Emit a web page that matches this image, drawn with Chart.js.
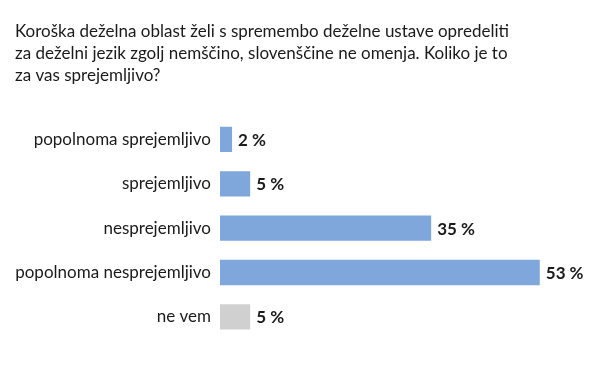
<!DOCTYPE html>
<html>
<head>
<meta charset="utf-8">
<script src="https://cdn.jsdelivr.net/npm/chart.js@4"></script>
<style>
html,body{margin:0;padding:0;background:#fff;}
#wrap{width:600px;height:380px;position:relative;}
</style>
</head>
<body>
<div id="wrap"><canvas id="c" width="600" height="380"></canvas></div>
<script>
const titleLines = [
  "Koroška deželna oblast želi s spremembo deželne ustave opredeliti",
  "za deželni jezik zgolj nemščino, slovenščine ne omenja. Koliko je to",
  "za vas sprejemljivo?"
];
const categories = ["popolnoma sprejemljivo", "sprejemljivo", "nesprejemljivo", "popolnoma nesprejemljivo", "ne vem"];
const values = [2, 5, 35, 53, 5];
const barColors = ["#7fa7db", "#7fa7db", "#7fa7db", "#7fa7db", "#d0d0d0"];

const FONT = "Lato, 'Noto Sans', sans-serif";

const valueLabels = {
  id: 'valueLabels',
  afterDatasetsDraw(chart) {
    const ctx = chart.ctx;
    const meta = chart.getDatasetMeta(0);
    ctx.save();
    ctx.font = "bold 17px " + FONT;
    ctx.fillStyle = "#1a1a1a";
    ctx.textAlign = "left";
    ctx.textBaseline = "middle";
    meta.data.forEach((bar, i) => {
      ctx.fillText(values[i] + " %", bar.x + 6, bar.y + 1);
    });
    ctx.restore();
  }
};

new Chart(document.getElementById('c'), {
  type: 'bar',
  data: {
    labels: categories,
    datasets: [{
      data: values,
      backgroundColor: barColors,
      borderWidth: 0,
      categoryPercentage: 1,
      barPercentage: 0.57
    }]
  },
  options: {
    indexAxis: 'y',
    responsive: false,
    animation: false,
    layout: { padding: { left: 15, right: 18, top: 0, bottom: 41 } },
    plugins: {
      legend: { display: false },
      tooltip: { enabled: false },
      title: {
        display: true,
        text: titleLines,
        align: 'start',
        color: '#1a1a1a',
        font: { family: FONT, size: 17, weight: 'normal', lineHeight: 1.3 },
        padding: { top: 20, bottom: 31 }
      }
    },
    scales: {
      x: {
        display: false,
        min: 0,
        max: 60,
        grid: { display: false }
      },
      y: {
        grid: { display: false, drawTicks: false },
        border: { display: false },
        ticks: {
          color: '#1a1a1a',
          padding: 9,
          font: { family: FONT, size: 17 }
        },
        afterFit(scale) { scale.width = 205; }
      }
    }
  },
  plugins: [valueLabels]
});
</script>
</body>
</html>
